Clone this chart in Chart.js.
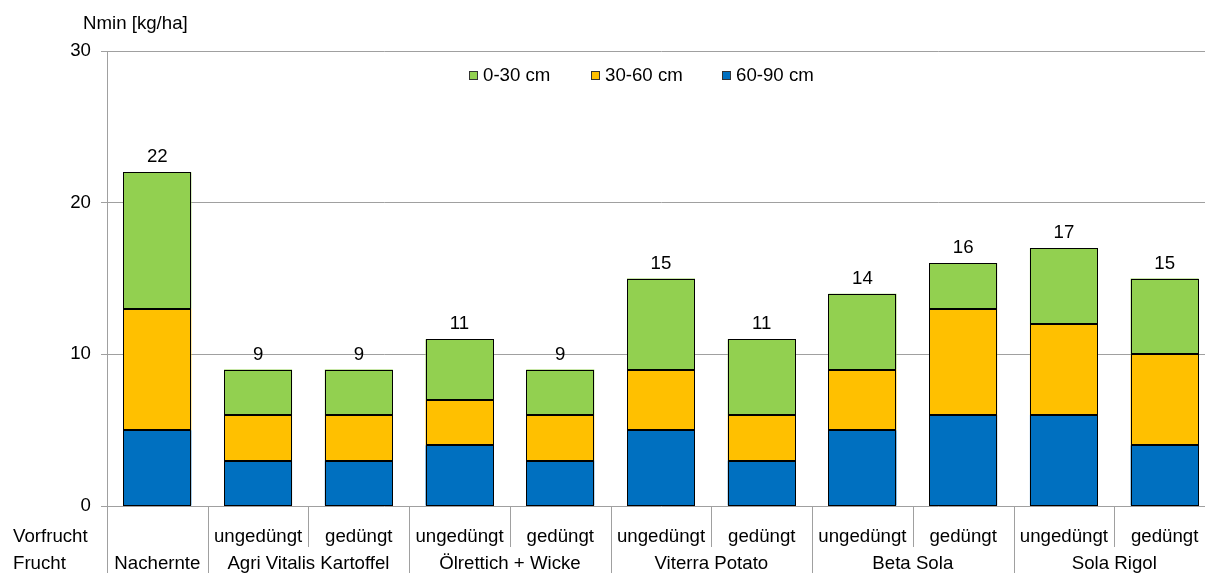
<!DOCTYPE html>
<html>
<head>
<meta charset="utf-8">
<style>
  html, body { margin: 0; padding: 0; background: #fff; overflow: hidden; }
  canvas { display: block; }
</style>
<script src="https://cdn.jsdelivr.net/npm/chart.js@4.4.1/dist/chart.umd.min.js"></script>
</head>
<body>
<canvas id="c" width="1220" height="573"></canvas>
<script>
// Soil nitrate (Nmin) per depth layer, kg/ha
const vorfrucht = ['', 'ungedüngt', 'gedüngt', 'ungedüngt', 'gedüngt', 'ungedüngt', 'gedüngt', 'ungedüngt', 'gedüngt', 'ungedüngt', 'gedüngt'];
const fruchtNames = ['Nachernte', 'Agri Vitalis Kartoffel', 'Ölrettich + Wicke', 'Viterra Potato', 'Beta Sola', 'Sola Rigol'];
const fruchtSpans = [1, 2, 2, 2, 2, 2];
const layer60to90 = [5, 3, 3, 4, 3, 5, 3, 5, 6, 6, 4];
const layer30to60 = [8, 3, 3, 3, 3, 4, 3, 4, 7, 6, 6];
const layer0to30  = [9, 3, 3, 4, 3, 6, 5, 5, 3, 5, 5];
const yTicks = [0, 10, 20, 30];
const yTitle = 'Nmin [kg/ha]';
const rowTitles = ['Vorfrucht', 'Frucht'];

const totals = layer0to30.map((v, i) => v + layer30to60[i] + layer60to90[i]);
const FONT = '"Liberation Sans", Arial, sans-serif';
const FS = 18.67;

// crisp 1px outlines around every bar segment
const barOutlines = {
  id: 'barOutlines',
  afterDatasetsDraw(chart) {
    const ctx = chart.ctx;
    ctx.save();
    ctx.strokeStyle = '#000';
    ctx.lineWidth = 1;
    chart.data.datasets.forEach((ds, k) => {
      chart.getDatasetMeta(k).data.forEach(bar => {
        const l = Math.round(bar.x - bar.width / 2) + 0.5;
        const r = Math.round(bar.x + bar.width / 2) - 0.5;
        const t = Math.round(Math.min(bar.y, bar.base)) + 0.5;
        const b = Math.round(Math.max(bar.y, bar.base)) - 0.5;
        ctx.strokeRect(l, t, r - l, b - t);
      });
    });
    ctx.restore();
  }
};

const drawExtras = {
  id: 'drawExtras',
  afterDraw(chart) {
    const ctx = chart.ctx;
    const xs = chart.scales.x;
    const ys = chart.scales.y;
    const area = chart.chartArea;
    const catW = (area.right - area.left) / vorfrucht.length;
    ctx.save();
    ctx.font = FS + 'px ' + FONT;
    ctx.fillStyle = '#000';

    // totals above the stacks
    ctx.textAlign = 'center';
    ctx.textBaseline = 'alphabetic';
    totals.forEach((t, i) => {
      ctx.fillText(String(t), xs.getPixelForValue(i), ys.getPixelForValue(t) - 10);
    });

    // axis title
    ctx.textAlign = 'left';
    ctx.textBaseline = 'middle';
    ctx.fillText(yTitle, 83, 24);

    // legend (top of stack first)
    const legendItems = [2, 1, 0].map(k => chart.data.datasets[k]);
    const legendX = [469, 591, 722];
    legendItems.forEach((ds, j) => {
      const bx = legendX[j];
      ctx.fillStyle = ds.backgroundColor;
      ctx.fillRect(bx, 71, 9, 9);
      ctx.strokeStyle = '#333';
      ctx.lineWidth = 1;
      ctx.strokeRect(bx + 0.5, 71.5, 8, 8);
      ctx.fillStyle = '#000';
      ctx.fillText(ds.label, bx + 14, 76);
    });

    // category separators under the axis
    ctx.strokeStyle = '#a0a0a0';
    ctx.lineWidth = 1;
    const groupStarts = new Set();
    let acc = 0;
    fruchtSpans.forEach(s => { groupStarts.add(acc); acc += s; });
    for (let i = 0; i <= vorfrucht.length; i++) {
      const x = Math.round(area.left + i * catW) + 0.5;
      const full = groupStarts.has(i) || i === vorfrucht.length;
      ctx.beginPath();
      ctx.moveTo(x, area.bottom);
      ctx.lineTo(x, full ? 573 : 547);
      ctx.stroke();
    }

    // row labels
    ctx.fillStyle = '#000';
    ctx.textAlign = 'center';
    vorfrucht.forEach((lab, i) => {
      if (lab) ctx.fillText(lab, xs.getPixelForValue(i), 537);
    });
    acc = 0;
    fruchtNames.forEach((name, g) => {
      const mid = area.left + (acc + fruchtSpans[g] / 2) * catW;
      ctx.fillText(name, mid, 564);
      acc += fruchtSpans[g];
    });
    ctx.textAlign = 'left';
    ctx.fillText(rowTitles[0], 13, 537);
    ctx.fillText(rowTitles[1], 13, 564);
    ctx.restore();
  }
};

const barStyle = { borderWidth: 0, categoryPercentage: 1, barPercentage: 0.675 };

new Chart(document.getElementById('c'), {
  type: 'bar',
  data: {
    labels: vorfrucht.map((v, i) => i),
    datasets: [
      Object.assign({ label: '60-90 cm', data: layer60to90, backgroundColor: '#0070c0' }, barStyle),
      Object.assign({ label: '30-60 cm', data: layer30to60, backgroundColor: '#ffc000' }, barStyle),
      Object.assign({ label: '0-30 cm', data: layer0to30, backgroundColor: '#92d050' }, barStyle)
    ]
  },
  options: {
    responsive: false,
    animation: false,
    devicePixelRatio: 1,
    layout: { padding: { top: 51, bottom: 67, left: 0, right: 5 } },
    plugins: { legend: { display: false }, tooltip: { enabled: false } },
    scales: {
      x: {
        stacked: true,
        ticks: { display: false },
        grid: { display: false, drawTicks: false },
        border: { display: false }
      },
      y: {
        stacked: true,
        min: 0,
        max: 30,
        afterBuildTicks: (scale) => { scale.ticks = yTicks.map(v => ({ value: v })); },
        afterFit: (scale) => { scale.width = 107; },
        ticks: { color: '#000', font: { family: FONT, size: FS }, padding: 10 },
        grid: { color: '#a0a0a0', lineWidth: 1, tickLength: 6, drawTicks: true },
        border: { display: true, color: '#a0a0a0', width: 1 }
      }
    }
  },
  plugins: [barOutlines, drawExtras]
});
</script>
</body>
</html>
